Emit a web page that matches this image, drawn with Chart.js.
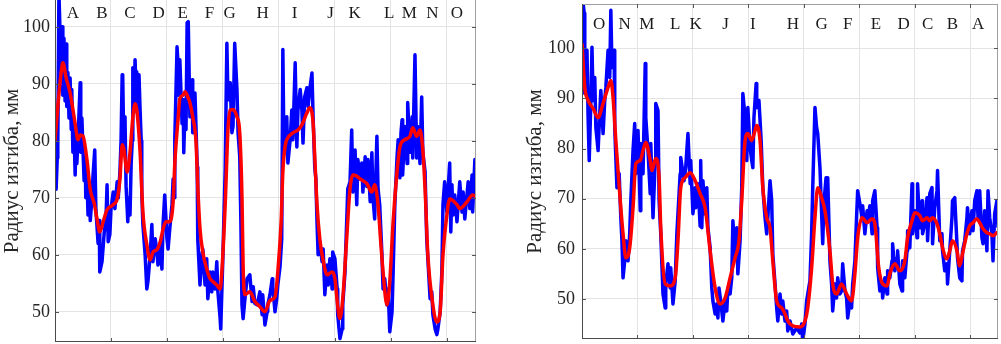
<!DOCTYPE html>
<html>
<head>
<meta charset="utf-8">
<script src="https://cdn.jsdelivr.net/npm/chart.js@4.4.1/dist/chart.umd.min.js"></script>
<style>
  html, body { margin: 0; padding: 0; background: #fff; }
  body { width: 1001px; height: 344px; position: relative; overflow: hidden; }
  canvas { position: absolute; top: 0; }
  #chartLeft { left: 0; }
  #chartRight { left: 500px; }
</style>
</head>
<body>
<canvas id="chartLeft" width="478" height="344"></canvas>
<canvas id="chartRight" width="501" height="344"></canvas>
<script>
// raw curve (blue) and smoothed curve (red), [x, radius mm]
const leftBlue = [[0,77],[0.02,71.5],[0.04,77],[0.05,79],[0.07,106],[0.09,99],[0.11,92],[0.13,100],[0.14,88],[0.16,98],[0.18,87],[0.20,97],[0.21,86],[0.23,92],[0.25,84],[0.27,91],[0.29,82],[0.30,89],[0.32,78],[0.34,82],[0.36,74],[0.38,82.5],[0.39,76],[0.41,80],[0.45,90.2],[0.46,78],[0.48,84],[0.52,73],[0.54,77],[0.55,70],[0.57,74],[0.59,67],[0.61,72],[0.63,66],[0.66,70],[0.68,74],[0.71,78.4],[0.73,68],[0.77,62],[0.79,66],[0.80,57],[0.84,58.8],[0.88,64],[0.91,66],[0.93,72.3],[0.95,62.3],[0.98,63.6],[1.00,68],[1.04,71],[1.07,68.1],[1.11,72.8],[1.13,70],[1.16,74.6],[1.18,80],[1.20,91.6],[1.21,91.3],[1.23,78],[1.25,84.2],[1.27,72],[1.29,68],[1.30,65.8],[1.32,70],[1.34,67],[1.36,76],[1.38,80],[1.39,92.8],[1.41,85],[1.43,94.2],[1.45,88],[1.46,92.1],[1.48,85.4],[1.50,91.6],[1.52,85.4],[1.54,80],[1.55,71],[1.57,65.3],[1.61,60],[1.64,54],[1.66,55.3],[1.70,60],[1.73,65.3],[1.75,58.8],[1.79,62.8],[1.82,60.5],[1.84,58.2],[1.88,62],[1.91,57.5],[1.93,65.3],[1.96,70.5],[2.00,62.8],[2.02,61],[2.05,64.6],[2.09,68.8],[2.11,73.3],[2.13,70],[2.14,80.2],[2.18,96.5],[2.20,93],[2.21,88],[2.23,94.2],[2.27,83],[2.29,87.2],[2.30,77.9],[2.32,85.4],[2.34,82],[2.36,100.7],[2.38,100.9],[2.41,84.2],[2.45,90.7],[2.46,81.4],[2.50,88.4],[2.54,75.4],[2.55,62.8],[2.59,54.7],[2.63,60.5],[2.64,61],[2.68,54.7],[2.71,59.3],[2.73,52.3],[2.77,57],[2.80,53.5],[2.82,57],[2.86,54],[2.89,58.8],[2.91,53.5],[2.95,48.8],[2.96,47],[3.00,60],[3.04,75],[3.07,97.1],[3.09,87.2],[3.13,90.2],[3.16,81.4],[3.18,82.5],[3.21,97.1],[3.25,89],[3.27,81.4],[3.30,77.2],[3.32,66],[3.34,51.2],[3.36,48.8],[3.39,52],[3.43,55.8],[3.48,56.5],[3.52,51.8],[3.54,54.4],[3.57,51.5],[3.61,51.2],[3.66,53.5],[3.70,49.5],[3.71,53],[3.75,47.7],[3.79,50],[3.80,51.2],[3.84,53],[3.88,55.8],[3.89,54.4],[3.93,50],[3.96,52.3],[3.98,54.7],[4.02,58],[4.05,62.8],[4.07,96],[4.09,78.4],[4.11,80],[4.14,84.2],[4.16,76.1],[4.20,80.2],[4.23,85.4],[4.25,80.2],[4.29,93.7],[4.32,78.9],[4.34,85.4],[4.38,89],[4.41,85.4],[4.43,79.6],[4.46,87.7],[4.50,89.3],[4.52,86],[4.55,89],[4.59,91.9],[4.61,84.2],[4.64,75.4],[4.66,73.3],[4.68,65.8],[4.70,60],[4.73,62.3],[4.77,58.8],[4.79,61],[4.82,53],[4.86,58.2],[4.88,54.7],[4.91,59.3],[4.95,54],[4.96,60.5],[5.00,59.3],[5.04,54],[5.05,49.5],[5.09,45.3],[5.13,47],[5.14,51.2],[5.18,57],[5.21,65.8],[5.23,71.6],[5.27,72.8],[5.30,81.9],[5.32,71],[5.36,78.4],[5.39,68.8],[5.41,76.7],[5.45,73.3],[5.48,76.1],[5.50,71],[5.54,77.2],[5.57,72],[5.59,76.7],[5.63,69.3],[5.66,77.9],[5.68,70],[5.71,66.3],[5.75,80.8],[5.77,71.6],[5.80,68.8],[5.84,60],[5.86,54],[5.89,55.8],[5.93,51.2],[5.95,54],[5.98,46.5],[6.02,50],[6.04,57],[6.07,68.8],[6.11,77.2],[6.13,80.2],[6.16,73.5],[6.18,81.4],[6.20,83.7],[6.21,74],[6.25,82.5],[6.29,76],[6.30,86.7],[6.34,78],[6.38,84.2],[6.39,77],[6.43,95.1],[6.46,77],[6.48,82.5],[6.52,76],[6.55,87.7],[6.57,78],[6.61,74.6],[6.64,62.8],[6.70,52.3],[6.73,53.5],[6.75,49.5],[6.79,47],[6.82,46],[6.84,47],[6.88,50],[6.91,57],[6.93,68.8],[6.96,72.8],[7.00,67.5],[7.02,71],[7.05,76.1],[7.07,64],[7.09,72.3],[7.11,67],[7.14,70.5],[7.18,65.8],[7.23,72.8],[7.27,67.5],[7.29,71],[7.32,66.3],[7.38,72.8],[7.41,68.1],[7.45,74],[7.46,67.5],[7.50,76.7],[7.52,72]];

const leftRed = [[0,80],[0.05,86],[0.11,92],[0.14,93.7],[0.20,91],[0.27,88.4],[0.36,83],[0.41,80.2],[0.45,81],[0.50,80.8],[0.57,76.7],[0.63,71.4],[0.70,69],[0.75,66.3],[0.80,64],[0.86,65.8],[0.93,67.9],[1.04,68.8],[1.11,69.8],[1.16,73.3],[1.20,79.3],[1.23,78.5],[1.29,74.5],[1.34,78],[1.39,84],[1.43,86.5],[1.46,85.5],[1.52,78],[1.57,67.5],[1.64,61.8],[1.70,59.1],[1.75,60.5],[1.82,60.9],[1.88,62.3],[1.93,64.5],[1.98,65.8],[2.05,65.8],[2.11,69.3],[2.14,76],[2.20,84],[2.23,87.4],[2.29,88],[2.32,88.6],[2.38,87.5],[2.41,86.7],[2.46,84.2],[2.52,79.6],[2.55,72],[2.59,64.6],[2.64,60.5],[2.71,57.5],[2.77,55.8],[2.82,55.3],[2.89,54.7],[2.95,54],[2.98,57],[3.04,68.8],[3.09,82],[3.13,85.4],[3.18,85.5],[3.25,84.2],[3.30,81.4],[3.34,70],[3.36,58],[3.39,53],[3.48,53.5],[3.57,51.8],[3.66,50.9],[3.75,50],[3.84,52],[3.93,52.6],[3.98,57],[4.04,66],[4.07,74.6],[4.11,79],[4.14,80.2],[4.25,81.4],[4.34,81.9],[4.41,82.8],[4.50,84.9],[4.55,85.8],[4.61,83.2],[4.64,77.2],[4.68,68.8],[4.73,62.8],[4.79,59],[4.86,56.5],[4.95,57],[5.00,55.8],[5.05,51],[5.09,48.8],[5.14,52.3],[5.21,62.8],[5.27,71.6],[5.32,74],[5.39,73.8],[5.45,73.3],[5.57,72.5],[5.66,71],[5.71,72.3],[5.77,68.8],[5.82,62],[5.86,57],[5.93,51.2],[5.98,55.3],[6.04,65.8],[6.11,74.6],[6.16,78.9],[6.25,80.2],[6.34,80.8],[6.39,82.3],[6.46,80.8],[6.52,81.9],[6.57,78.4],[6.61,71.6],[6.66,60],[6.75,51.2],[6.82,48.2],[6.88,50],[6.93,60],[7.00,67],[7.05,69.8],[7.18,68.8],[7.23,68.1],[7.36,69.3],[7.46,70.5],[7.52,70.2]];

const rightBlue = [[0,96],[0.02,109],[0.04,107],[0.05,91],[0.09,99.6],[0.11,86.2],[0.13,77.6],[0.16,89.6],[0.18,100.2],[0.20,89.6],[0.23,94.2],[0.25,84.2],[0.29,79.6],[0.32,87],[0.34,91.6],[0.38,83],[0.41,89.6],[0.43,92.2],[0.47,99.6],[0.50,94.2],[0.52,107.6],[0.54,96.2],[0.58,99.6],[0.59,84.2],[0.63,72.2],[0.67,75],[0.70,66.2],[0.72,61.6],[0.74,54.2],[0.77,57.6],[0.79,61.6],[0.83,57.6],[0.86,63],[0.88,69.6],[0.92,79.6],[0.95,85],[0.97,75],[1.01,83.6],[1.05,67.6],[1.06,81],[1.10,75],[1.14,97],[1.15,86.2],[1.19,79.6],[1.23,71],[1.24,81],[1.28,66.2],[1.32,77.6],[1.33,89],[1.37,87.6],[1.39,69.6],[1.42,63],[1.46,51],[1.50,48.2],[1.51,53],[1.55,57],[1.59,52.2],[1.60,56.2],[1.64,49],[1.68,53.6],[1.71,63],[1.77,75],[1.78,78.2],[1.84,73.6],[1.87,76.2],[1.91,83],[1.95,73],[1.96,77.6],[2.00,67],[2.04,72.2],[2.05,68.2],[2.09,73],[2.13,64.5],[2.14,77.6],[2.16,64.2],[2.18,73.6],[2.22,67],[2.25,72.2],[2.27,64.2],[2.31,60.2],[2.34,52.2],[2.36,49.6],[2.40,47],[2.43,49],[2.45,46.2],[2.47,52.2],[2.50,49.6],[2.52,47.6],[2.54,45.6],[2.58,49.6],[2.61,47.6],[2.63,52.2],[2.67,51],[2.70,54.2],[2.72,65.6],[2.76,59],[2.79,64.2],[2.81,55],[2.85,61.6],[2.88,72.2],[2.90,91],[2.94,86.2],[2.97,77.6],[2.99,88.2],[3.03,80.2],[3.06,77.6],[3.08,76.2],[3.10,86.2],[3.14,93],[3.15,88.2],[3.19,89.6],[3.23,81.6],[3.26,72.2],[3.30,66.2],[3.33,63],[3.35,66.2],[3.39,73.6],[3.42,69.6],[3.44,59],[3.48,53],[3.51,48.2],[3.53,45.6],[3.57,51],[3.60,47],[3.62,49.6],[3.66,45.6],[3.69,47.6],[3.71,43.6],[3.75,45.6],[3.80,43],[3.87,44.2],[3.93,43.2],[3.96,45],[3.98,41.6],[4.02,45],[4.05,49.6],[4.07,51],[4.11,53.6],[4.14,63],[4.16,72.2],[4.20,88.2],[4.23,84.2],[4.25,83],[4.29,76.2],[4.34,61],[4.36,69],[4.40,74.2],[4.41,66.2],[4.43,74.2],[4.47,57.6],[4.50,53],[4.52,47.6],[4.56,53],[4.59,50.2],[4.61,54.2],[4.65,51],[4.68,51.6],[4.70,57],[4.74,51.6],[4.77,50.2],[4.79,46.2],[4.83,49.6],[4.86,48.2],[4.88,53],[4.92,57.6],[4.95,66.2],[4.97,71.6],[5.01,69],[5.05,66.2],[5.06,68.6],[5.10,63],[5.14,67.6],[5.15,65.4],[5.19,68.6],[5.23,63],[5.24,69.6],[5.28,71.6],[5.32,64.2],[5.33,56.2],[5.37,51.6],[5.41,53],[5.42,50.2],[5.46,54.2],[5.50,51],[5.51,55.6],[5.55,54.2],[5.59,57.6],[5.60,61],[5.64,55.6],[5.68,58.2],[5.69,59.6],[5.73,53],[5.77,51.6],[5.78,57.6],[5.82,54.2],[5.86,59.6],[5.87,63.6],[5.91,60.2],[5.95,73],[5.96,63],[6.00,67.6],[6.04,62.2],[6.05,73],[6.09,64.2],[6.13,69.6],[6.14,63],[6.18,65],[6.22,70.2],[6.23,61.6],[6.27,71],[6.31,72.2],[6.32,61],[6.36,68.2],[6.40,71.6],[6.41,75.6],[6.45,61.6],[6.49,63],[6.50,59.6],[6.54,55.6],[6.58,57],[6.59,53],[6.63,59.6],[6.67,66.2],[6.68,69.6],[6.72,70.2],[6.76,61],[6.77,58.2],[6.81,54.2],[6.85,53.6],[6.86,59.6],[6.90,61.6],[6.94,66.2],[6.95,68.2],[6.99,63],[7.03,67.6],[7.05,63.6],[7.08,69.6],[7.12,71.6],[7.14,66.2],[7.17,71.6],[7.21,62.2],[7.23,61],[7.26,67.6],[7.30,59.6],[7.32,71.6],[7.35,66.2],[7.39,63],[7.41,57.6],[7.44,67],[7.48,69.6],[7.50,64.2]];

const rightRed = [[0,101],[0.05,92.2],[0.11,89.6],[0.20,88],[0.29,86.2],[0.38,89],[0.47,92.2],[0.52,93.6],[0.56,90.2],[0.61,81.6],[0.68,71],[0.74,63],[0.79,58.2],[0.86,60.2],[0.92,68.2],[0.97,77],[1.05,77.6],[1.10,79.6],[1.15,81.2],[1.23,77.6],[1.26,75.6],[1.33,78],[1.39,74.2],[1.42,64.2],[1.50,53],[1.59,52.6],[1.68,54.2],[1.73,61.6],[1.78,72.2],[1.86,74.2],[1.95,75.2],[2.04,73.6],[2.13,71],[2.22,68.2],[2.31,59.6],[2.40,52.2],[2.49,49],[2.58,50.2],[2.67,54.2],[2.76,58.2],[2.83,61.6],[2.88,69.6],[2.94,81.6],[2.99,83],[3.06,81.6],[3.12,83.6],[3.15,84.6],[3.21,81.6],[3.26,72.2],[3.33,66.2],[3.39,64.2],[3.44,57.6],[3.51,49.6],[3.60,48.2],[3.66,47],[3.71,45.6],[3.80,44.6],[3.93,44.4],[4.02,45.6],[4.07,48.2],[4.14,56.2],[4.20,66.2],[4.25,72.2],[4.32,70.2],[4.38,67.6],[4.47,59.6],[4.52,53],[4.59,51],[4.68,53],[4.77,51],[4.86,49.6],[4.92,55],[4.97,62.2],[5.05,66.2],[5.14,65.2],[5.23,66],[5.28,65],[5.35,56.2],[5.42,53],[5.50,52.6],[5.55,55],[5.64,57],[5.73,55.6],[5.82,57.6],[5.87,62.2],[5.95,65.6],[6.00,67.2],[6.09,66.6],[6.14,65.6],[6.22,66.2],[6.27,65.6],[6.32,66.2],[6.40,65],[6.45,63],[6.50,60.2],[6.58,58],[6.63,59.6],[6.68,61.6],[6.76,59.6],[6.81,56.6],[6.86,59],[6.94,63],[6.99,64.6],[7.05,65.2],[7.12,66],[7.17,65.2],[7.23,64],[7.30,63.2],[7.35,63],[7.41,62.6],[7.48,63.2],[7.50,63.3]];

// section letters along the top of each panel
const leftLetters = ['A','B','C','D','E','F','G','H','I','J','K','L','M','N','O'];
const leftLetterX = [0.32,0.84,1.34,1.85,2.28,2.76,3.12,3.71,4.28,4.92,5.35,5.97,6.33,6.74,7.18];
const rightLetters = ['O','N','M','L','K','J','I','H','G','F','E','D','C','B','A'];
const rightLetterX = [0.31,0.77,1.17,1.68,2.05,2.59,3.08,3.80,4.32,4.79,5.30,5.80,6.23,6.68,7.14];

const yTickValues = [50, 60, 70, 80, 90, 100];
const xGridValues = [1, 2, 3, 4, 5, 6, 7];
const yTitle = 'Радиус изгиба, мм';
const FONT = '"Liberation Serif", "Times New Roman", serif';

function toPoints(list) {
  return list.map(function (p) { return { x: p[0], y: p[1] }; });
}

function makeChart(id, cfg) {
  const boxPlugin = {
    id: 'box',
    beforeDatasetsDraw(chart) {
      const { ctx, scales } = chart;
      ctx.save();
      ctx.font = '17px ' + FONT;
      ctx.fillStyle = '#1a1a1a';
      ctx.textAlign = 'center';
      ctx.textBaseline = 'middle';
      cfg.letters.forEach(function (t, i) {
        ctx.fillText(t, scales.x.getPixelForValue(cfg.letterX[i]), scales.y.getPixelForValue(cfg.letterY));
      });
      ctx.restore();
    },
    afterDraw(chart) {
      const { ctx, chartArea: a, scales } = chart;
      ctx.save();
      ctx.lineWidth = 1;
      // right and top frame
      ctx.strokeStyle = '#a0a0a0';
      ctx.beginPath();
      ctx.moveTo(a.right - 0.5, a.top);
      ctx.lineTo(a.right - 0.5, a.bottom);
      if (cfg.topLine) {
        ctx.moveTo(a.left, a.top + 0.5);
        ctx.lineTo(a.right, a.top + 0.5);
      }
      ctx.stroke();
      // inward tick marks
      ctx.strokeStyle = '#555';
      ctx.beginPath();
      yTickValues.forEach(function (v) {
        const py = Math.round(scales.y.getPixelForValue(v)) + 0.5;
        ctx.moveTo(a.left, py); ctx.lineTo(a.left + 4, py);
        ctx.moveTo(a.right, py); ctx.lineTo(a.right - 4, py);
      });
      xGridValues.forEach(function (v) {
        const px = Math.round(scales.x.getPixelForValue(v)) + 0.5;
        ctx.moveTo(px, a.bottom); ctx.lineTo(px, a.bottom - 4);
        if (cfg.topLine) { ctx.moveTo(px, a.top); ctx.lineTo(px, a.top + 4); }
      });
      ctx.stroke();
      // left and bottom axis lines
      ctx.strokeStyle = '#4a4a4a';
      ctx.beginPath();
      ctx.moveTo(a.left + 0.5, a.top);
      ctx.lineTo(a.left + 0.5, a.bottom);
      ctx.moveTo(a.left, a.bottom - 0.5);
      ctx.lineTo(a.right, a.bottom - 0.5);
      ctx.stroke();
      ctx.restore();
    }
  };

  return new Chart(document.getElementById(id), {
    type: 'line',
    data: {
      datasets: [
        {
          data: toPoints(cfg.red),
          borderColor: '#ff0000',
          borderWidth: 3.5,
          pointRadius: 0,
          cubicInterpolationMode: 'monotone',
          order: 0
        },
        {
          data: toPoints(cfg.blue),
          borderColor: '#0000ff',
          borderWidth: 3.5,
          borderJoinStyle: 'round',
          pointRadius: 0,
          tension: 0,
          order: 1
        }
      ]
    },
    options: {
      responsive: false,
      animation: false,
      events: [],
      layout: { padding: cfg.padding },
      plugins: { legend: { display: false }, tooltip: { enabled: false } },
      scales: {
        x: {
          type: 'linear',
          min: 0,
          max: cfg.xMax,
          ticks: { display: false },
          grid: { color: '#e4e4e4', drawTicks: false },
          border: { display: false },
          afterBuildTicks: function (s) { s.ticks = xGridValues.map(function (v) { return { value: v }; }); },
          afterFit: function (s) { s.height = 0; s.paddingLeft = 0; s.paddingRight = 0; }
        },
        y: {
          min: cfg.yMin,
          max: cfg.yMax,
          ticks: {
            padding: cfg.tickPad,
            color: '#262626',
            font: { family: FONT, size: 18 }
          },
          grid: { color: '#e4e4e4', drawTicks: false },
          border: { display: false },
          title: {
            display: true,
            text: yTitle,
            color: '#262626',
            font: { family: FONT, size: 21 },
            padding: { top: cfg.titlePad, bottom: 0 }
          },
          afterBuildTicks: function (s) { s.ticks = yTickValues.map(function (v) { return { value: v }; }); },
          afterFit: function (s) { s.width = cfg.axisWidth; s.paddingTop = 0; s.paddingBottom = 0; }
        }
      }
    },
    plugins: [boxPlugin]
  });
}

makeChart('chartLeft', {
  blue: leftBlue, red: leftRed,
  letters: leftLetters, letterX: leftLetterX, letterY: 102.4,
  xMax: 7.52, yMin: 44.7, yMax: 104.7,
  axisWidth: 55, tickPad: 5, titlePad: 0,
  padding: { top: 0, right: 2, bottom: 2, left: 0 },
  topLine: false
});

makeChart('chartRight', {
  blue: rightBlue, red: rightRed,
  letters: rightLetters, letterX: rightLetterX, letterY: 104.8,
  xMax: 7.5, yMin: 42.0, yMax: 108.85,
  axisWidth: 82, tickPad: 7, titlePad: 23,
  padding: { top: 4, right: 3, bottom: 5, left: 0 },
  topLine: true
});
</script>
</body>
</html>
